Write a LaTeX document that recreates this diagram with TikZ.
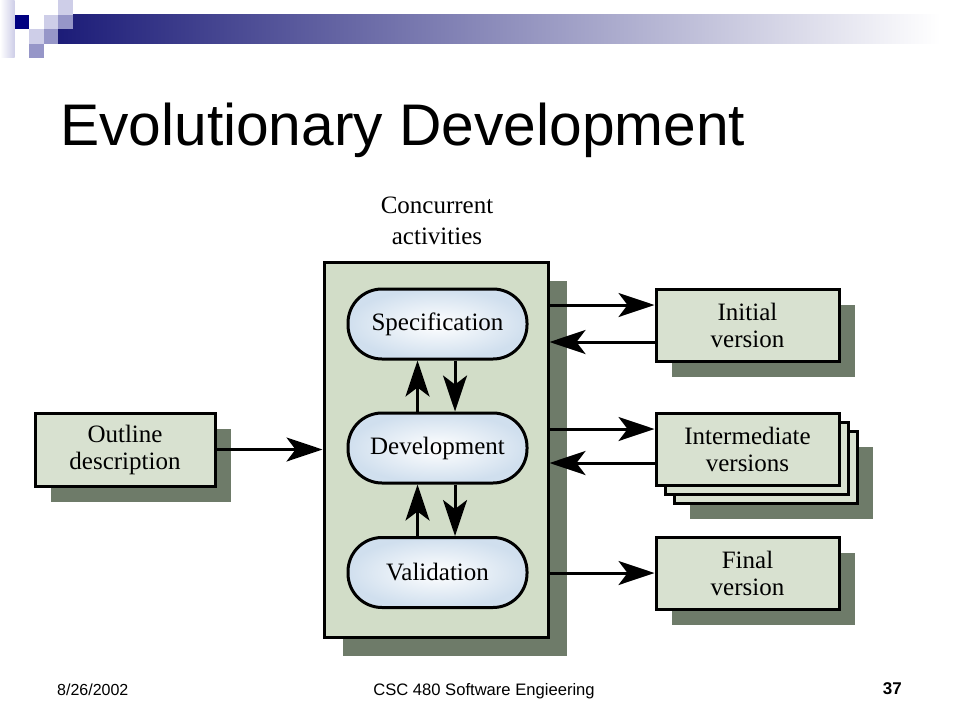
\documentclass[tikz,border=0pt]{standalone}
\usepackage{fontspec}
\setmainfont{Liberation Serif}
\newfontfamily\arialfont{Liberation Sans}
\usetikzlibrary{arrows.meta,shadows}
\definecolor{navyc}{RGB}{0,0,128}
\definecolor{barnavy}{RGB}{28,28,120}
\definecolor{barmid}{RGB}{178,178,198}
\definecolor{lightsq}{RGB}{206,206,232}
\definecolor{medsq}{RGB}{150,150,200}
\definecolor{boxc}{RGB}{216,225,208}
\definecolor{mainc}{RGB}{210,221,200}
\definecolor{shadowc}{RGB}{110,123,105}
\definecolor{ovalc}{RGB}{208,223,238}
\tikzset{
  arr/.style={line width=3pt,-{Stealth[length=36pt,width=24pt,inset=9pt]}},
  shad/.style={drop shadow={shadow xshift=#1,shadow yshift=-#1,fill=shadowc,opacity=1}},
  vbox/.style={draw,line width=3pt,fill=boxc,minimum width=183pt,minimum height=72pt,
    inner sep=0pt,align=center,font=\fontsize{25}{27}\selectfont},
  oval/.style={draw,line width=3pt,rounded corners=34pt,minimum width=179pt,minimum height=70pt,
    inner sep=0pt,inner color=white,outer color=ovalc,font=\fontsize{25}{27}\selectfont},
  sq/.style={minimum size=14.5pt,inner sep=0pt,anchor=north west,fill=#1},
}
\begin{document}
\begin{tikzpicture}[x=1pt,y=-1pt]
\useasboundingbox[fill=white] (0,0) rectangle (960,720);
% header decoration
\shade[left color=barnavy,middle color=barmid,right color=white,draw=none] (58,14) rectangle (940,43.5);
\shade[left color=white,right color=lightsq,draw=none] (0,0) rectangle (14.5,57);
\node[sq=navyc] (dsq) at (14.5,14.5) {};
\node[sq=lightsq] (l1) at (58,0) {};
\node[sq=lightsq] (l2) at (43.5,14.5) {};
\node[sq=lightsq] (l3) at (29,29) {};
\node[sq=medsq] (m1) at (58,14.5) {};
\node[sq=medsq] (m2) at (43.5,29) {};
\node[sq=medsq] (m3) at (29,43.5) {};
% title
\node[anchor=base west,inner sep=0pt,font=\arialfont\fontsize{58.7}{70}\selectfont] (title) at (60,145) {Evolutionary Development};
% concurrent activities label
\node[align=center,font=\fontsize{25}{31}\selectfont] (conc) at (437,221) {Concurrent\\activities};
% main box
\node[draw,line width=3pt,fill=mainc,minimum width=224pt,minimum height=375pt,inner sep=0pt,shad=19pt] (main) at (436,449.5) {};
% ovals
\node[oval] (spec) at (437.5,324) {Specification};
\node[oval] (dev) at (437.5,448) {Development};
\node[oval] (val) at (437.5,572.5) {Validation};
% outline
\node[vbox,minimum width=180pt,minimum height=73pt,shad=16pt] (outl) at (125,449.5) {Outline\\description};
% right boxes
\node[vbox,shad=16pt] (init) at (747.5,325) {Initial\\version};
\node[vbox,shad=16pt] (inter3) at (765.5,467) {};
\node[vbox] (inter2) at (756.5,458) {};
\node[vbox] (inter) at (747.5,449) {Intermediate\\versions};
\node[vbox,shad=16pt] (final) at (747.5,573) {Final\\version};
% vertical arrows
\draw[arr] ([xshift=-20pt]dev.north) -- ([xshift=-20pt]spec.south);
\draw[arr] ([xshift=17.5pt]spec.south) -- ([xshift=17.5pt]dev.north);
\draw[arr] ([xshift=-20pt]val.north) -- ([xshift=-20pt]dev.south);
\draw[arr] ([xshift=17.5pt]dev.south) -- ([xshift=17.5pt]val.north);
% horizontal arrows
\draw[arr] (outl.east |- main.west) -- (main.west);
\draw[arr] ([yshift=20pt]init.west -| main.east) -- ([yshift=20pt]init.west);
\draw[arr] ([yshift=-17pt]init.west) -- ([yshift=-17pt]init.west -| main.east);
\draw[arr] ([yshift=20pt]inter.west -| main.east) -- ([yshift=20pt]inter.west);
\draw[arr] ([yshift=-14pt]inter.west) -- ([yshift=-14pt]inter.west -| main.east);
\draw[arr] (final.west -| main.east) -- (final.west);
% footer
\node[anchor=base west,inner sep=0pt,font=\arialfont\fontsize{16}{18}\selectfont] (date) at (57,695) {8/26/2002};
\node[anchor=base,inner sep=0pt,font=\arialfont\fontsize{16.6}{20}\selectfont] (course) at (484,695) {CSC 480 Software Engieering};
\node[anchor=base east,inner sep=0pt,font=\arialfont\bfseries\fontsize{17}{20}\selectfont] (page) at (902,694) {37};
\end{tikzpicture}
\end{document}
